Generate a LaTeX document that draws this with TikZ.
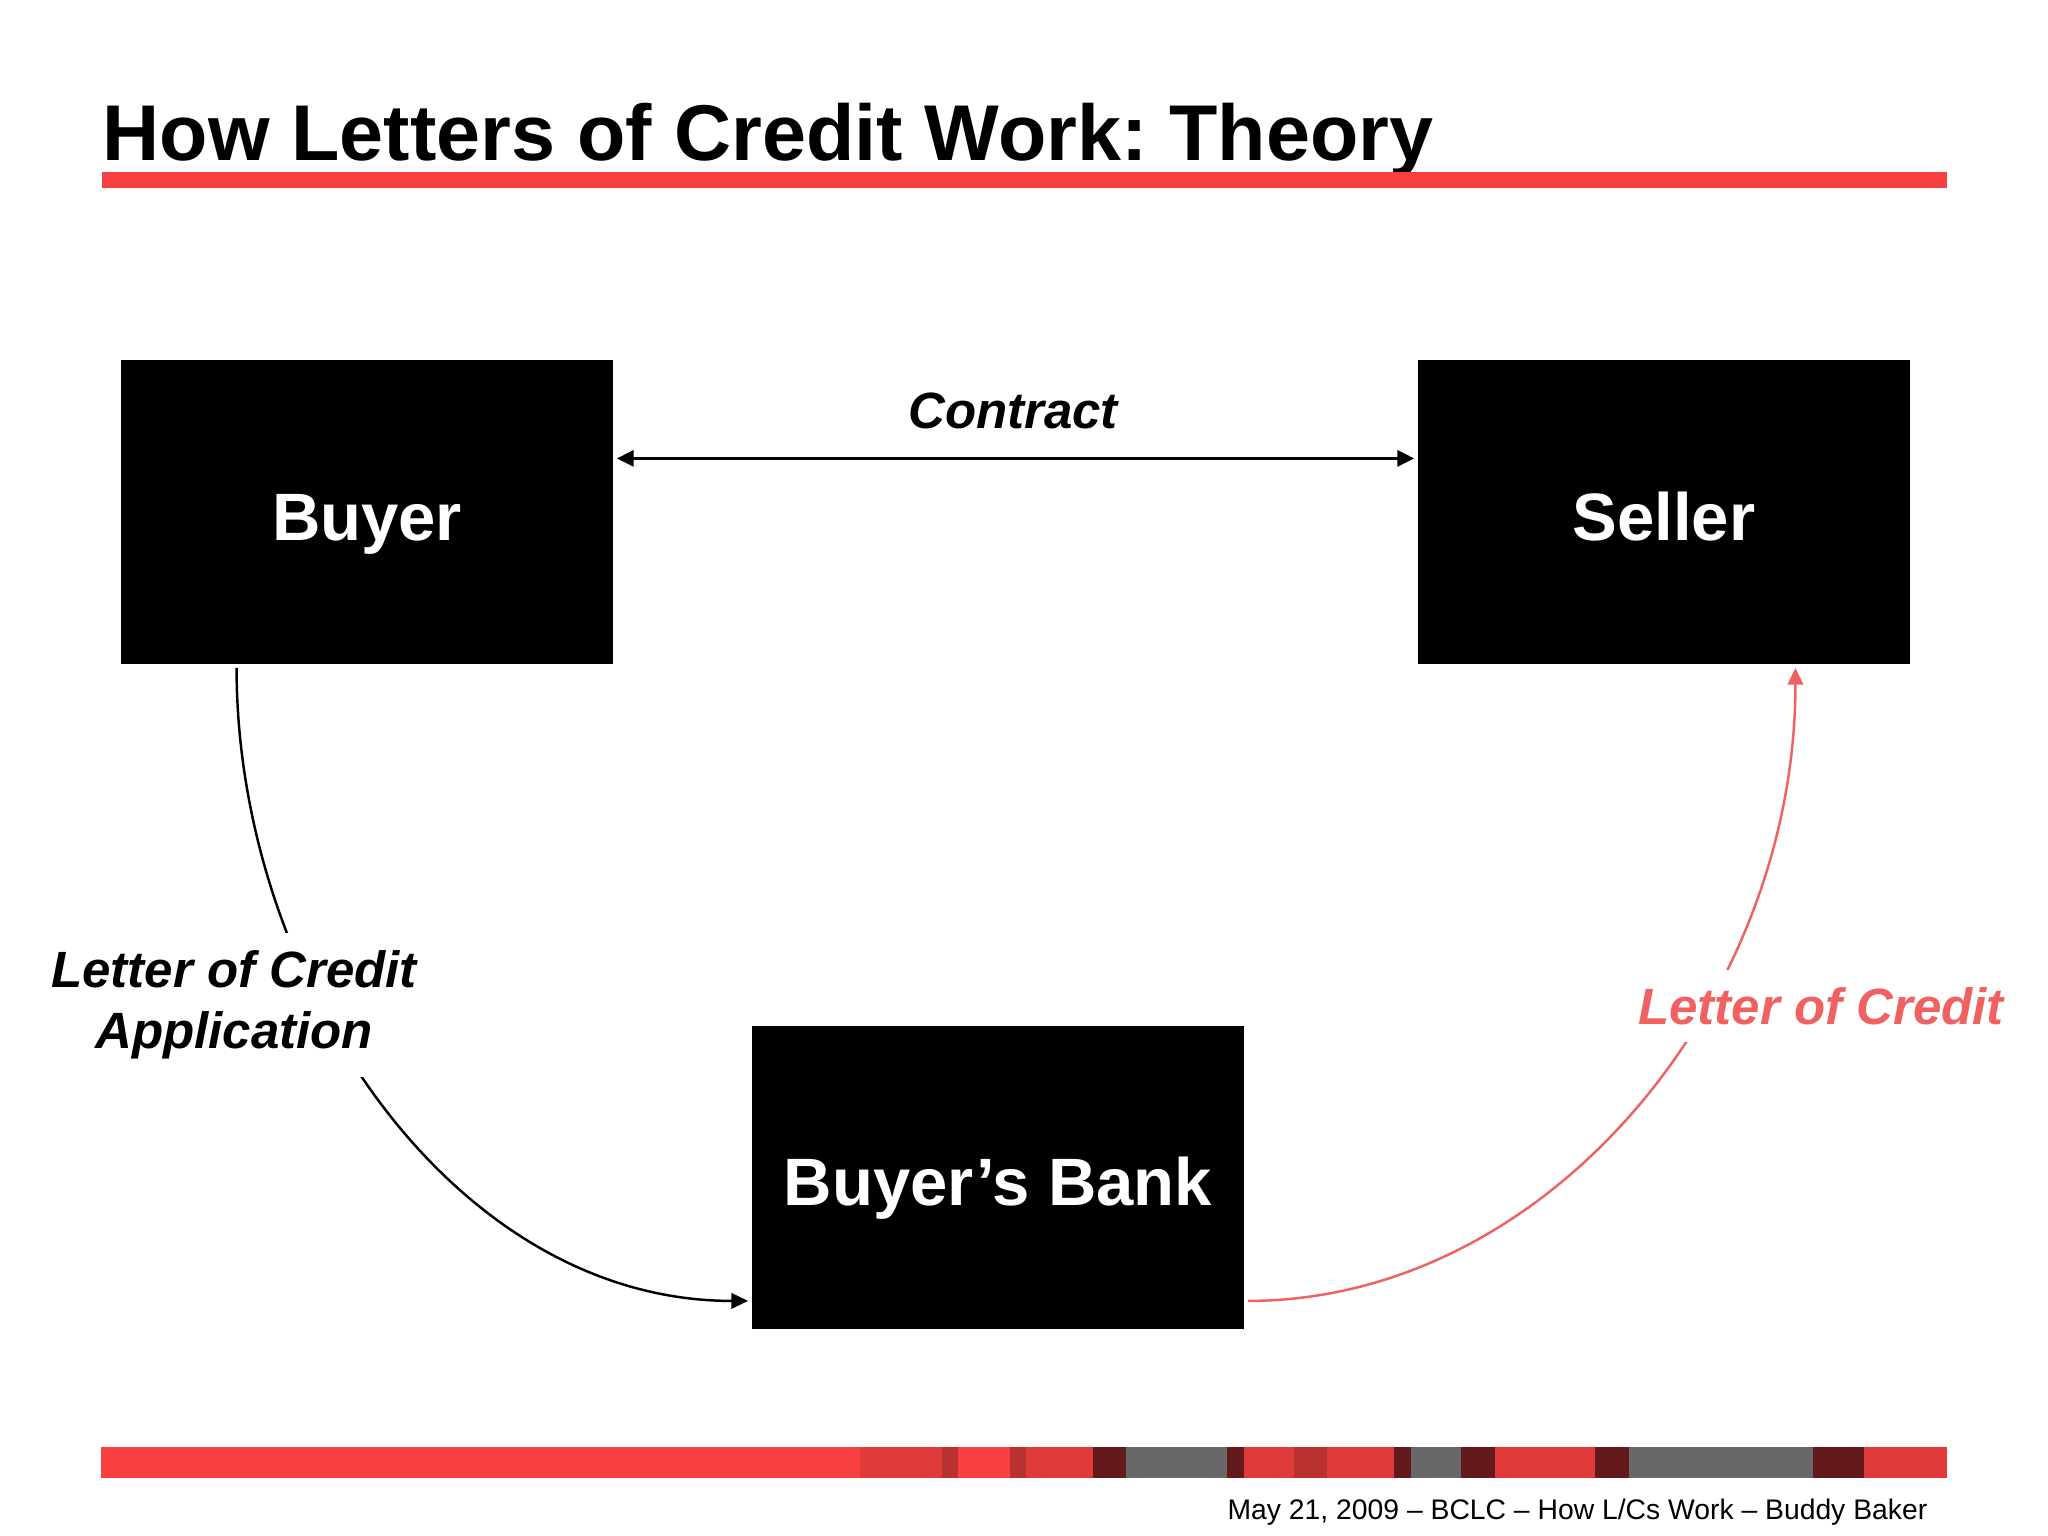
\documentclass[tikz,border=0pt]{standalone}
\usepackage{fontspec}
\setmainfont{Liberation Sans}
\usetikzlibrary{calc,arrows.meta}
\definecolor{titlered}{RGB}{248,64,64}
\definecolor{medred}{RGB}{224,58,58}
\definecolor{darkred}{RGB}{184,48,48}
\definecolor{barmaroon}{RGB}{100,26,28}
\definecolor{bargray}{RGB}{104,104,104}
\definecolor{lcred}{RGB}{240,98,98}
\frenchspacing
\begin{document}
\begin{tikzpicture}[x=0.01cm,y=-0.01cm,
  box/.style={fill=black, text=white, font=\fontsize{19.06}{22}\selectfont\bfseries,
    minimum width=4.91cm, minimum height=3.03cm, inner sep=0pt, outer sep=1.2pt,
    text height=15.93pt, text depth=0pt},
  lbl/.style={font=\fontsize{14.5}{17.4}\selectfont\bfseries\itshape, align=center,
    fill=white, inner sep=5pt},
  conn/.style={line width=0.7pt, -{Triangle[length=4.8pt,width=4.4pt]}}]
\fill[white] (0,0) rectangle (2048,1536);
\useasboundingbox (0,0) rectangle (2048,1536);

% title
\node[anchor=base west, inner sep=0pt, font=\fontsize{22.5}{27}\selectfont\bfseries] (title) at (102,160) {How Letters of Credit Work: Theory};
\fill[titlered] (102,172) rectangle (1947,188);

% boxes
\node[box] (buyer) at (367,512) {Buyer};
\node[box] (seller) at (1664,512) {Seller};
\node[box] (bank) at (998,1177.5) {Buyer’s Bank};

% contract
\draw[line width=0.75pt, {Triangle[length=4.8pt,width=4.6pt]}-{Triangle[length=4.8pt,width=4.6pt]}]
  ($(buyer.north east)!0.328!(buyer.south east)$) -- ($(seller.north west)!0.328!(seller.south west)$);
\node[anchor=base, inner sep=0pt, font=\fontsize{14.5}{17}\selectfont\bfseries\itshape] (contract) at (1013,428) {Contract};

% application curve
\draw[conn, black] ($(buyer.south west)!0.239!(buyer.south east)$)
  .. controls +(0,313) and +(-296,0) .. ($(bank.north west)!0.896!(bank.south west)$);
% letter of credit curve
\draw[conn, lcred] ($(bank.north east)!0.896!(bank.south east)$)
  .. controls +(300,0) and +(0,332) .. ($(seller.south west)!0.763!(seller.south east)$);

\node[lbl] (applbl) at (234,1005) {Letter of Credit\\Application};
\node[lbl, text=lcred] (lclbl) at (1821,1006) {Letter of Credit};

% bottom bar
\fill[titlered] (101,1447) rectangle (1947,1478);
\foreach \a/\b/\c in {860/942/medred, 942/958/darkred, 1010/1026/darkred, 1026/1093/medred,
  1093/1126/barmaroon, 1126/1227/bargray, 1227/1244/barmaroon, 1244/1294/medred,
  1294/1327/darkred, 1327/1394/medred, 1394/1411/barmaroon, 1411/1461/bargray,
  1461/1495/barmaroon, 1495/1595/medred, 1595/1629/barmaroon, 1629/1813/bargray,
  1813/1864/barmaroon, 1864/1947/medred}
  \fill[\c] (\a,1447) rectangle (\b,1478);

% footer
\node[anchor=base east, inner sep=0pt, font=\fontsize{8.05}{9}\selectfont] (footer) at (1928,1519) {May 21, 2009 – BCLC – How L/Cs Work – Buddy Baker};
\end{tikzpicture}
\end{document}
